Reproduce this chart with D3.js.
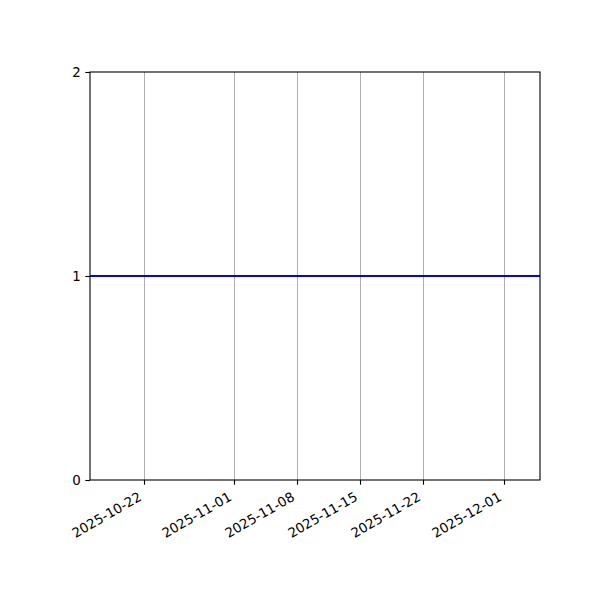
<!DOCTYPE html>
<html>
<head>
<meta charset="utf-8">
<script src="https://cdn.jsdelivr.net/npm/d3@7"></script>
<style>
  body { margin: 0; background: #fff; }
  text { font-family: "DejaVu Sans", sans-serif; }
</style>
</head>
<body>
<svg id="chart" width="600" height="600"></svg>
<script>
// Data
const dates = ["2025-10-16", "2025-10-22", "2025-11-01", "2025-11-08", "2025-11-15", "2025-11-22", "2025-12-01", "2025-12-05"];
const values = [1, 1, 1, 1, 1, 1, 1, 1];
const xTickLabels = ["2025-10-22", "2025-11-01", "2025-11-08", "2025-11-15", "2025-11-22", "2025-12-01"];
const yTicks = [0, 1, 2];
const xDomain = ["2025-10-16", "2025-12-05"];
const yDomain = [0, 2];

const parse = d3.utcParse("%Y-%m-%d");
const fmt = d3.utcFormat("%Y-%m-%d");
const mLeft = 90, mRight = 540, mTop = 72, mBottom = 480;

const svg = d3.select("#chart");
svg.append("rect").attr("width", 600).attr("height", 600).attr("fill", "#fff");

const x = d3.scaleUtc().domain(xDomain.map(parse)).range([mLeft, mRight]);
const y = d3.scaleLinear().domain(yDomain).range([mBottom, mTop]);

const tickDates = xTickLabels.map(parse);

// grid
svg.append("g").selectAll("line").data(tickDates).join("line")
  .attr("x1", d => Math.round(x(d)) + 0.5).attr("x2", d => Math.round(x(d)) + 0.5)
  .attr("y1", mTop).attr("y2", mBottom)
  .attr("stroke", "#b0b0b0").attr("stroke-width", 1);

// line
const data = dates.map((d, i) => ({ date: parse(d), value: values[i] }));
svg.append("path").datum(data)
  .attr("fill", "none").attr("stroke", "#0000ff").attr("stroke-width", 2)
  .attr("d", d3.line().x(d => x(d.date)).y(d => y(d.value)));

// frame
svg.append("rect").attr("x", mLeft).attr("y", mTop)
  .attr("width", mRight - mLeft).attr("height", mBottom - mTop)
  .attr("fill", "none").attr("stroke", "#000").attr("stroke-width", 1.1);

// x axis
const xAxis = svg.append("g").attr("transform", `translate(0,${mBottom})`)
  .call(d3.axisBottom(x).tickValues(tickDates).tickFormat(fmt).tickSize(4.7).tickPadding(0));
xAxis.select(".domain").remove();
xAxis.selectAll(".tick line").attr("stroke", "#000").attr("stroke-width", 1.1);
xAxis.selectAll(".tick text")
  .attr("font-size", "13.33px").attr("fill", "#000")
  .attr("text-anchor", "end")
  .attr("dy", null)
  .attr("y", null)
  .attr("transform", "translate(-2,19.5) rotate(-30)");

// y axis
const yAxis = svg.append("g").attr("transform", `translate(${mLeft},0)`)
  .call(d3.axisLeft(y).tickValues(yTicks).tickFormat(d3.format("d")).tickSize(4.7).tickPadding(4.7));
yAxis.select(".domain").remove();
yAxis.selectAll(".tick line").attr("stroke", "#000").attr("stroke-width", 1.1);
yAxis.selectAll(".tick text").attr("font-size", "13.33px").attr("fill", "#000");
</script>
</body>
</html>
